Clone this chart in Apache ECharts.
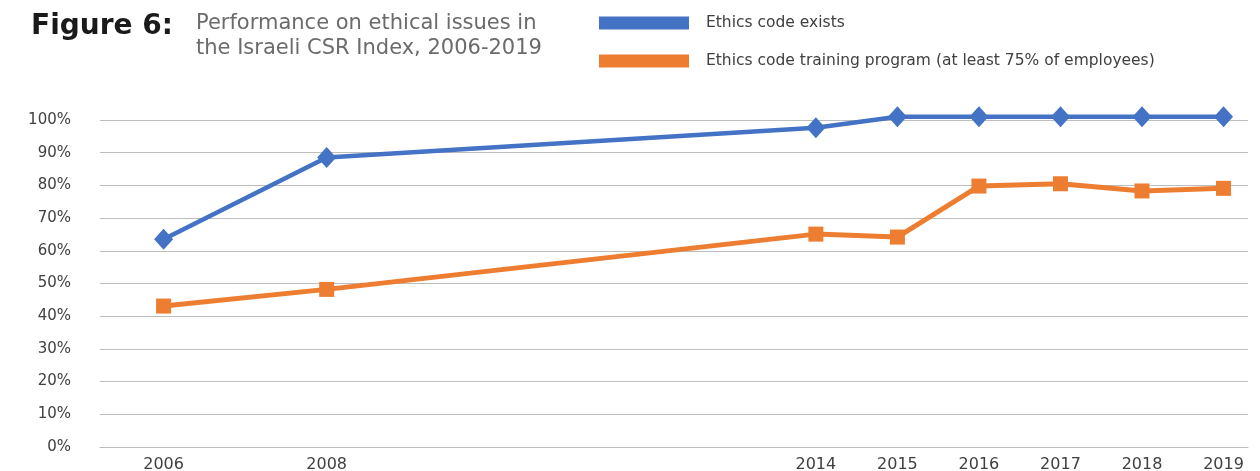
<!DOCTYPE html>
<html>
<head>
<meta charset="utf-8">
<script src="https://cdn.jsdelivr.net/npm/echarts@6/dist/echarts.min.js"></script>
<style>html,body{margin:0;padding:0;background:#fff}#c{width:1260px;height:471px}</style>
</head>
<body>
<div id="c"></div>
<script>
const years = [2006, 2008, 2014, 2015, 2016, 2017, 2018, 2019];
const codeExists = [63.5, 88.5, 97.6, 101, 101, 101, 101, 101];
const trainingProgram = [43.1, 48.2, 65.1, 64.2, 79.8, 80.5, 78.3, 79.1];
const seriesNames = ['Ethics code exists', 'Ethics code training program (at least 75% of employees)'];

const chart = echarts.init(document.getElementById('c'), null, {renderer: 'canvas'});
const txt = '#404040';
chart.setOption({
  animation: false,
  backgroundColor: '#fff',
  title: [
    {text: 'Figure 6:', left: 31, top: 13, padding: 0,
     textStyle: {fontFamily: 'DejaVu Sans', fontWeight: 'bold', fontSize: 28, color: '#1a1a1a'}},
    {text: 'Performance on ethical issues in\nthe Israeli CSR Index, 2006-2019', left: 196, top: 11, padding: 0,
     textStyle: {fontFamily: 'DejaVu Sans', fontWeight: 'normal', fontSize: 21, lineHeight: 25, color: '#6b6b6b'}}
  ],
  legend: {
    orient: 'vertical', left: 599, top: 15, padding: 0, icon: 'rect',
    itemWidth: 90, itemHeight: 13, itemGap: 22,
    textStyle: {fontFamily: 'DejaVu Sans', fontSize: 15.5, color: txt, padding: [0, 0, 0, 12]},
    data: seriesNames
  },
  grid: {left: 100, right: 12, top: 120, bottom: 24, containLabel: false, outerBoundsMode: 'none'},
  xAxis: {
    type: 'value', min: 2005.22, max: 2019.3,
    axisLine: {show: true, lineStyle: {color: '#bdbdbd', width: 1}},
    axisTick: {show: false},
    splitLine: {show: false},
    axisLabel: {customValues: years, margin: 10, fontFamily: 'DejaVu Sans', fontSize: 16, color: txt,
                formatter: v => String(v)}
  },
  yAxis: {
    type: 'value', min: 0, max: 100, interval: 10,
    axisLine: {show: false}, axisTick: {show: false},
    splitLine: {lineStyle: {color: '#bdbdbd', width: 1}},
    axisLabel: {margin: 29, fontFamily: 'DejaVu Sans', fontSize: 15, color: txt, formatter: '{value}%'}
  },
  series: [
    {name: seriesNames[0], type: 'line', data: years.map((y, i) => [y, codeExists[i]]),
     symbol: 'diamond', symbolSize: [19, 21], showSymbol: true, clip: false,
     lineStyle: {color: '#4472c4', width: 4.5}, itemStyle: {color: '#4472c4'}, z: 3},
    {name: seriesNames[1], type: 'line', data: years.map((y, i) => [y, trainingProgram[i]]),
     symbol: 'rect', symbolSize: 15, showSymbol: true, clip: false,
     lineStyle: {color: '#ed7d31', width: 5}, itemStyle: {color: '#ed7d31'}, z: 2}
  ]
});
</script>
</body>
</html>
